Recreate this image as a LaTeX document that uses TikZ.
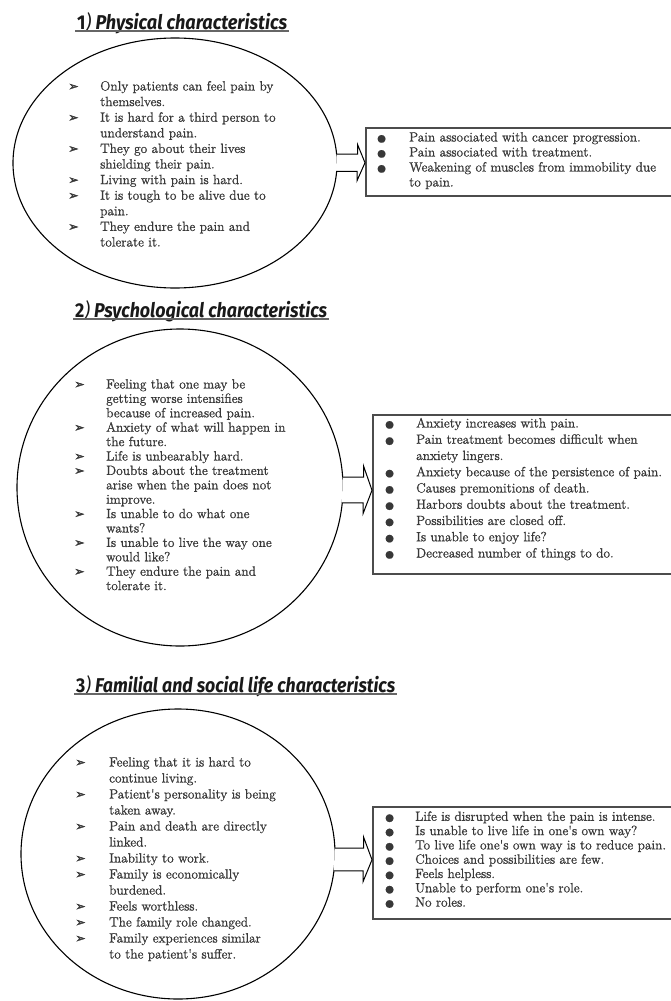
\documentclass[tikz,border=0pt]{standalone}
\usepackage{fontspec}
\usepackage{graphicx}
\usetikzlibrary{shapes.geometric,calc}
\newfontfamily\titlefont{Fira Sans}
\newfontfamily\symfont{DejaVu Sans}[FakeBold=1.5]
\newfontfamily\bodyfont{Latin Modern Roman}[FakeBold=1.1]
\newcommand\arr{\makebox[32pt][l]{\symfont\fontsize{12.5}{12}\selectfont ➢}}
\newcommand\arrw[1]{\makebox[#1][l]{\symfont\fontsize{12.5}{12}\selectfont ➢}}
\newcommand\bul[1]{\makebox[#1][l]{\symfont\fontsize{10}{10}\selectfont ●}}
\newcommand\ttl[2]{\resizebox{#1}{\height}{\titlefont\fontsize{20}{24}\selectfont\bfseries\itshape #2}}
\tikzset{
  ell/.style={draw=black, line width=1.1pt, ellipse, inner sep=0pt},
  cbox/.style={draw=black!70, line width=1.5pt, rectangle, inner sep=0pt, anchor=north west},
  blockarr/.style={draw=black, line width=1pt, fill=white, line join=miter},
  txt/.style={anchor=base west, inner sep=0pt, text=black!78, font=\bodyfont\fontsize{13.4}{#1}\selectfont},
  ttlnode/.style={anchor=base west, inner sep=0pt, text=black!90},
  uline/.style={draw=black!60, line width=1.6pt}
}
\begin{document}
\begin{tikzpicture}[x=1pt,y=-1pt]
\useasboundingbox (0,0) rectangle (671,1001);
\clip (0,0) rectangle (671,1001);

% ---------- Section 1 ----------
\node[ttlnode] (t1) at (77,29) {\ttl{210pt}{{\upshape 1}\textmd{)} Physical characteristics}};
\draw[uline] ($(t1.base west)+(-2,2)$) -- ($(t1.base east)+(2,2)$);
\node[ell, minimum width=324pt, minimum height=250pt] (e1) at (175,163) {};
\node[cbox, minimum width=330pt, minimum height=68pt] (b1) at (365,127) {};
\draw[blockarr] ($(e1.east)+(-1,-9)$) -- ++(21,0) -- ++(0,-9.5) -- ($(b1.west)+(0,1)$) -- ++(-8,18) -- ++(0,-9.5) -- ++(-21,0);
\node[txt=15.6] (l1) at (68,90.5) {\begin{tabular}[t]{@{}l@{}l@{}}
\arr & Only patients can feel pain by\\
 & themselves.\\
\arr & It is hard for a third person to\\
 & understand pain.\\
\arr & They go about their lives\\
 & shielding their pain.\\
\arr & Living with pain is hard.\\
\arr & It is tough to be alive due to\\
 & pain.\\
\arr & They endure the pain and\\
 & tolerate it.
\end{tabular}};
\node[txt=15] (r1) at (377,141.5) {\begin{tabular}[t]{@{}l@{}l@{}}
\bul{32pt} & Pain associated with cancer progression.\\
\bul{32pt} & Pain associated with treatment.\\
\bul{32pt} & Weakening of muscles from immobility due\\
 & to pain.
\end{tabular}};

% ---------- Section 2 ----------
\node[ttlnode] (t2) at (75,317) {\ttl{252pt}{{\upshape 2}\textmd{)} Psychological characteristics}};
\draw[uline] ($(t2.base west)+(-2,2)$) -- ($(t2.base east)+(2,2)$);
\node[ell, minimum width=326pt, minimum height=317pt] (e2) at (180,487.5) {};
\node[cbox, minimum width=320pt, minimum height=159pt] (b2) at (372,414) {};
\draw[blockarr] ($(e2.east)+(-1,-10.5)$) -- ++(21,0) -- ++(0,-11) -- ($(b2.west)+(0,-4)$) -- ++(-9,23.5) -- ++(0,-11) -- ++(-21,0);
\node[txt=14.4] (l2) at (74,388.5) {\begin{tabular}[t]{@{}l@{}l@{}}
\arr & Feeling that one may be\\
 & getting worse intensifies\\
 & because of increased pain.\\
\arr & Anxiety of what will happen in\\
 & the future.\\
\arr & Life is unbearably hard.\\
\arr & Doubts about the treatment\\
 & arise when the pain does not\\
 & improve.\\
\arr & Is unable to do what one\\
 & wants?\\
\arr & Is unable to live the way one\\
 & would like?\\
\arr & They endure the pain and\\
 & tolerate it.
\end{tabular}};
\node[txt=16.25] (r2) at (385,427.5) {\begin{tabular}[t]{@{}l@{}l@{}}
\bul{31pt} & Anxiety increases with pain.\\
\bul{31pt} & Pain treatment becomes difficult when\\
 & anxiety lingers.\\
\bul{31pt} & Anxiety because of the persistence of pain.\\
\bul{31pt} & Causes premonitions of death.\\
\bul{31pt} & Harbors doubts about the treatment.\\
\bul{31pt} & Possibilities are closed off.\\
\bul{31pt} & Is unable to enjoy life?\\
\bul{31pt} & Decreased number of things to do.
\end{tabular}};

% ---------- Section 3 ----------
\node[ttlnode] (t3) at (76,692) {\ttl{319pt}{{\upshape 3}\textmd{)} Familial and social life characteristics}};
\draw[uline] ($(t3.base west)+(-2,2)$) -- ($(t3.base east)+(2,2)$);
\node[ell, minimum width=314pt, minimum height=290pt] (e3) at (178,854) {};
\node[cbox, minimum width=320pt, minimum height=112pt] (b3) at (372,806) {};
\draw[blockarr] ($(e3.east)+(-1,-6)$) -- ++(29,0) -- ++(0,-11) -- ($(b3.west)+(0,-3)$) -- ++(-9,22) -- ++(0,-11) -- ++(-29,0);
\node[txt=16] (l3) at (75,766.5) {\begin{tabular}[t]{@{}l@{}l@{}}
\arrw{34pt} & Feeling that it is hard to\\
 & continue living.\\
\arrw{34pt} & Patient's personality is being\\
 & taken away.\\
\arrw{34pt} & Pain and death are directly\\
 & linked.\\
\arrw{34pt} & Inability to work.\\
\arrw{34pt} & Family is economically\\
 & burdened.\\
\arrw{34pt} & Feels worthless.\\
\arrw{34pt} & The family role changed.\\
\arrw{34pt} & Family experiences similar\\
 & to the patient's suffer.
\end{tabular}};
\node[txt=14.3] (r3) at (385,820.8) {\begin{tabular}[t]{@{}l@{}l@{}}
\bul{30pt} & Life is disrupted when the pain is intense.\\
\bul{30pt} & Is unable to live life in one's own way?\\
\bul{30pt} & To live life one's own way is to reduce pain.\\
\bul{30pt} & Choices and possibilities are few.\\
\bul{30pt} & Feels helpless.\\
\bul{30pt} & Unable to perform one's role.\\
\bul{30pt} & No roles.
\end{tabular}};
\end{tikzpicture}
\end{document}
